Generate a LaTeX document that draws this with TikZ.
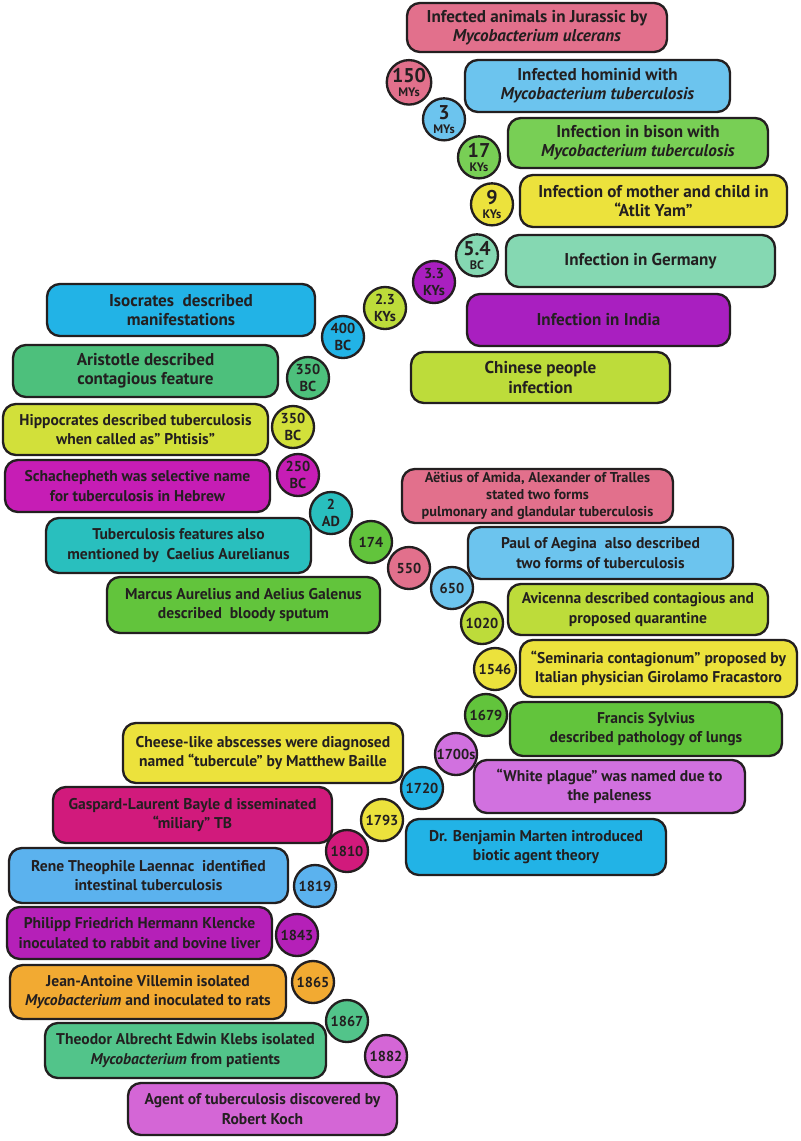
\documentclass[tikz,border=0pt]{standalone}
\usepackage{fontspec}
\setmainfont{PT Sans}
\usepackage{xcolor}
\usepackage{tikz}
\usetikzlibrary{positioning}

\definecolor{tbpink}{HTML}{E2708C}
\definecolor{tbsky}{HTML}{6CC4EE}
\definecolor{tbgreen}{HTML}{78CF55}
\definecolor{tbyellow}{HTML}{ECE23C}
\definecolor{tbmint}{HTML}{85D8B2}
\definecolor{tbpurple}{HTML}{A91FC0}
\definecolor{tblime}{HTML}{BDDC3A}
\definecolor{tbcyan}{HTML}{22B3E6}
\definecolor{tbjade}{HTML}{4DC07C}
\definecolor{tbchart}{HTML}{D2E03A}
\definecolor{tbmagenta}{HTML}{C61DB5}
\definecolor{tbteal}{HTML}{29BFBE}
\definecolor{tbleaf}{HTML}{62C43C}
\definecolor{tbrose}{HTML}{D11A7C}
\definecolor{tbblue}{HTML}{5BB2EE}
\definecolor{tbviolet}{HTML}{B520B8}
\definecolor{tborange}{HTML}{F2AA32}
\definecolor{tbsea}{HTML}{52C48A}
\definecolor{tborchid}{HTML}{D466D6}
\definecolor{tblilac}{HTML}{D171DF}
\definecolor{tbink}{HTML}{231F20}

\newcommand{\yrnum}[1]{{\fontsize{17}{17}\selectfont #1}}
\newcommand{\yrunit}[1]{{\fontsize{10.5}{10.5}\selectfont #1}}

\begin{document}
\begin{tikzpicture}[x=0.03cm, y=-0.03cm,
  every node/.style={text=tbink},
  box/.style={draw=tbink, line width=2pt, rounded corners=11pt, align=center, inner sep=2pt, font=\bfseries\fontsize{13.3}{16.5}\selectfont},
  big/.style={font=\bfseries\fontsize{14.6}{16.5}\selectfont},
  yr/.style={draw=tbink, circle, line width=2pt, minimum size=1.26cm, inner sep=0pt, align=center, font=\bfseries\fontsize{12.3}{12.3}\selectfont},
  stack/.style={yshift=-2pt}
]
  \useasboundingbox (0,0) rectangle (800,1141);

  % ancient times, right column
  \node[box, big, fill=tbpink, minimum width=7.8cm, minimum height=1.47cm] (jurassic) at (537,27.5) {Infected animals in Jurassic by\\\textit{Mycobacterium ulcerans}};
  \node[box, big, fill=tbsky, minimum width=7.95cm, minimum height=1.56cm] (hominid) at (597.5,86) {Infected hominid with\\\textit{Mycobacterium tuberculosis}};
  \node[box, big, fill=tbgreen, minimum width=7.8cm, minimum height=1.5cm] (bison) at (638,143) {Infection in bison with\\\textit{Mycobacterium tuberculosis}};
  \node[box, big, fill=tbyellow, minimum width=8.01cm, minimum height=1.56cm] (atlit) at (653.5,201) {Infection of mother and child in\\“Atlit Yam”};
  \node[box, big, fill=tbmint, minimum width=8.07cm, minimum height=1.56cm] (germany) at (640.5,261) {Infection in Germany};
  \node[box, big, fill=tbpurple, minimum width=7.89cm, minimum height=1.56cm] (india) at (598.5,320) {Infection in India};
  \node[box, big, fill=tblime, minimum width=7.77cm, minimum height=1.53cm] (chinese) at (540.5,377.5) {Chinese people\\infection};

  \node[yr, stack, fill=tbpink] (y150) at (409,80) {\yrnum{150}\\[0pt]\yrunit{MYs}};
  \node[yr, stack, fill=tbsky] (y3) at (444,117) {\yrnum{3}\\[0pt]\yrunit{MYs}};
  \node[yr, stack, fill=tbgreen] (y17) at (479,155) {\yrnum{17}\\[0pt]\yrunit{KYs}};
  \node[yr, stack, fill=tbyellow] (y9) at (492,202) {\yrnum{9}\\[0pt]\yrunit{KYs}};
  \node[yr, stack, fill=tbmint] (y54) at (477,253) {\yrnum{5.4}\\[0pt]\yrunit{BC}};
  \node[yr, fill=tbpurple] (y33) at (434,282) {3.3\\[1.5pt]KYs};
  \node[yr, fill=tblime] (y23) at (385,308) {2.3\\[1.5pt]KYs};

  % classical authors, left column
  \node[box, big, fill=tbcyan, minimum width=8.04cm, minimum height=1.56cm] (isocrates) at (181,310) {Isocrates\ \ described\\manifestations};
  \node[box, big, fill=tbjade, minimum width=7.95cm, minimum height=1.56cm] (aristotle) at (145.5,371) {Aristotle described\\contagious feature};
  \node[box, fill=tbchart, minimum width=7.95cm, minimum height=1.53cm] (hippocrates) at (135.5,429.5) {Hippocrates described tuberculosis\\when called as” Phtisis”};
  \node[box, fill=tbmagenta, minimum width=7.95cm, minimum height=1.56cm] (hebrew) at (137.5,486) {Schachepheth was selective name\\for tuberculosis in Hebrew};
  \node[box, fill=tbteal, minimum width=7.95cm, minimum height=1.65cm] (caelius) at (178.5,545.5) {Tuberculosis features also\\mentioned by\ \ Caelius Aurelianus};
  \node[box, fill=tbleaf, minimum width=8.19cm, minimum height=1.68cm] (galenus) at (243.5,605) {Marcus Aurelius and Aelius Galenus\\described\ \ bloody sputum};

  \node[yr, fill=tbcyan] (y400) at (343,337) {400\\[1.5pt]BC};
  \node[yr, fill=tbjade] (y350a) at (308,378) {350\\[1.5pt]BC};
  \node[yr, fill=tbchart] (y350b) at (293,427) {350\\[1.5pt]BC};
  \node[yr, fill=tbmagenta] (y250) at (298,475) {250\\[1.5pt]BC};
  \node[yr, fill=tbteal] (y2) at (331,513) {2\\[1.5pt]AD};
  \node[yr, fill=tbleaf] (y174) at (371,542) {174};

  % middle ages, right column
  \node[box, fill=tbpink, minimum width=8.13cm, minimum height=1.62cm, font=\bfseries\fontsize{12.2}{14.8}\selectfont] (aetius) at (537.5,496) {Aëtius of Amida, Alexander of Tralles\\stated two forms\\pulmonary and glandular tuberculosis};
  \node[box, fill=tbsky, minimum width=7.95cm, minimum height=1.56cm] (aegina) at (600.5,553) {Paul of Aegina\ \ also described\\two forms of tuberculosis};
  \node[box, fill=tblime, minimum width=7.8cm, minimum height=1.53cm] (avicenna) at (638,609.5) {Avicenna described contagious and\\proposed quarantine};
  \node[box, fill=tbyellow, minimum width=8.31cm, minimum height=1.71cm] (fracastoro) at (658.5,668.5) {“Seminaria contagionum” proposed by\\Italian physician Girolamo Fracastoro};
  \node[box, fill=tbleaf, minimum width=8.16cm, minimum height=1.62cm] (sylvius) at (646,729) {Francis Sylvius\\described pathology of lungs};
  \node[box, fill=tblilac, minimum width=8.13cm, minimum height=1.59cm] (plague) at (609.5,786.5) {“White plague” was named due to\\the paleness};
  \node[box, fill=tbcyan, minimum width=7.8cm, minimum height=1.68cm] (marten) at (536,847) {Dr. Benjamin Marten introduced\\biotic agent theory};

  \node[yr, fill=tbpink] (y550) at (409,568) {550};
  \node[yr, fill=tbsky] (y650) at (452,588) {650};
  \node[yr, fill=tblime] (y1020) at (482,623) {1020};
  \node[yr, fill=tbyellow] (y1546) at (495,669) {1546};
  \node[yr, fill=tbleaf] (y1679) at (486,715) {1679};
  \node[yr, fill=tblilac] (y1700) at (456,754) {1700s};
  \node[yr, fill=tbcyan] (y1720) at (422,788) {1720};

  % modern era, left column
  \node[box, fill=tbyellow, minimum width=8.4cm, minimum height=1.8cm] (baille) at (263,753) {Cheese-like abscesses were diagnosed\\named “tubercule” by Matthew Baille};
  \node[box, fill=tbrose, minimum width=8.37cm, minimum height=1.68cm] (bayle) at (192.5,815) {Gaspard-Laurent Bayle d isseminated\\“miliary” TB};
  \node[box, fill=tbblue, minimum width=8.37cm, minimum height=1.65cm] (laennac) at (148.5,875.5) {Rene Theophile Laennac\ \ identified\\intestinal tuberculosis};
  \node[box, fill=tbviolet, minimum width=7.95cm, minimum height=1.56cm] (klencke) at (139.5,933) {Philipp Friedrich Hermann Klencke\\inoculated to rabbit and bovine liver};
  \node[box, fill=tborange, minimum width=8.28cm, minimum height=1.62cm] (villemin) at (148,992) {Jean-Antoine Villemin isolated\\\textit{Mycobacterium} and inoculated to rats};
  \node[box, fill=tbsea, minimum width=8.43cm, minimum height=1.65cm] (klebs) at (185.5,1050.5) {Theodor Albrecht Edwin Klebs isolated\\\textit{Mycobacterium} from patients};
  \node[box, fill=tborchid, minimum width=8.07cm, minimum height=1.56cm] (koch) at (262.5,1109) {Agent of tuberculosis discovered by\\Robert Koch};

  \node[yr, fill=tbyellow] (y1793) at (382,820) {1793};
  \node[yr, fill=tbrose] (y1810) at (347,851) {1810};
  \node[yr, fill=tbblue] (y1819) at (315,886) {1819};
  \node[yr, fill=tbviolet] (y1843) at (297,935) {1843};
  \node[yr, fill=tborange] (y1865) at (313,982) {1865};
  \node[yr, fill=tbsea] (y1867) at (347,1021) {1867};
  \node[yr, fill=tborchid] (y1882) at (386,1056) {1882};
\end{tikzpicture}
\end{document}
